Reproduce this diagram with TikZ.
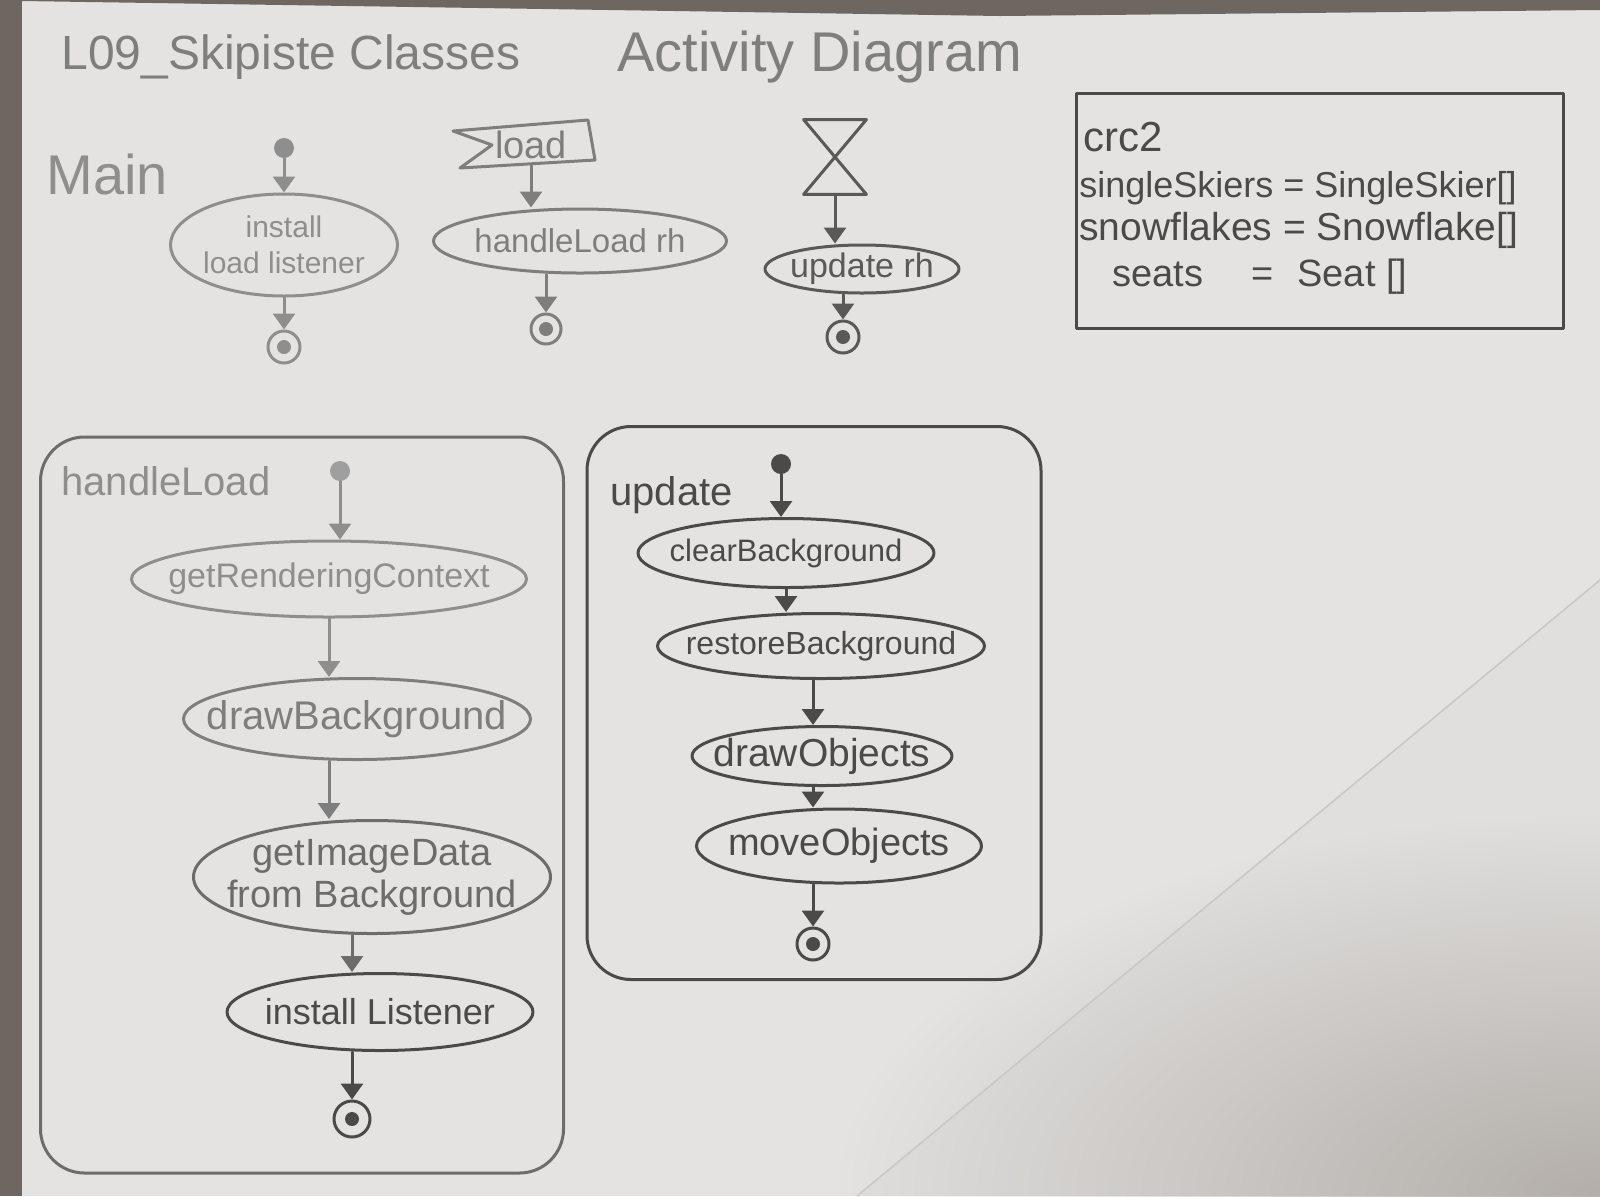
\documentclass[tikz,border=0pt]{standalone}
\usepackage{fontspec}
\setmainfont{Liberation Sans}
\usetikzlibrary{shapes.geometric,arrows.meta,fadings}

\definecolor{paper}{HTML}{E4E3E1}
\definecolor{desk}{HTML}{6E6761}
\definecolor{shadow}{HTML}{A8A29D}
\definecolor{ink}{HTML}{4A4A4A}
\definecolor{inkmid}{HTML}{6C6C6C}
\definecolor{inksoft}{HTML}{7E7E7E}
\definecolor{inkpale}{HTML}{8E8E8E}

\tikzfading[name=corner glow, inner color=transparent!0, outer color=transparent!100]

\begin{document}
\begin{tikzpicture}[x=0.5pt,y=-0.5pt,
  pen/.style={line width=1.5pt, line cap=round, line join=round},
  act/.style 2 args={ellipse, draw, pen, inner sep=0pt, minimum width=#1, minimum height=#2},
  lbl/.style={align=center, font=\fontsize{#1}{#1}\selectfont},
  flow/.style={pen, -{Triangle[width=11pt,length=8pt]}},
  startdot/.style={circle, fill, inner sep=0pt, minimum size=#1},
  enddot/.style={circle, draw, pen, inner sep=0pt, minimum size=#1,
    path picture={\fill (path picture bounding box.center) circle (3.5pt);}},
  txt/.style={anchor=base west, inner sep=0pt, font=\fontsize{#1}{#1}\selectfont},
  frame/.style={draw, pen, rounded corners=22pt, inner sep=0pt}
]
\useasboundingbox (0,0) rectangle (1600,1196);

% sheet of paper on the desk
\begin{scope}
  \clip (0,0) rectangle (1600,1196);
  \fill[paper] (0,0) rectangle (1600,1196);
  \fill[black, opacity=0.015] (1600,580) -- (857,1196) -- (1600,1196) -- cycle;
  \fill[shadow, opacity=0.8, path fading=corner glow] (1600,1196) ellipse (760 and 380);
  \draw[paper!88!black, line width=0.8pt] (1600,580) -- (857,1196);
  \fill[desk] (0,0) rectangle (22,1196);
  \fill[desk] (22,0) -- (1600,0) -- (1600,10) -- (1000,16) -- (22,1) -- cycle;
\end{scope}

% title line
\begin{scope}[color=inkmid!85!paper]
  \node[txt=24] (title) at (61,69) {L09\_Skipiste Classes};
  \node[txt=28] (subtitle) at (617,71) {Activity Diagram};
\end{scope}

% ---------------- Main ----------------
\node[txt=28, color=inkpale] (main) at (46,194) {Main};

\begin{scope}[color=inkpale]
  \node[startdot=10pt] (s1) at (284,148) {};
  \node[act={113.5pt}{51pt}, label={[lbl=15]center:{install\\[3pt]load listener}}] (inst) at (284,245) {};
  \node[enddot=16pt] (e1) at (284,347) {};
  \draw[flow] (s1) -- (inst);
  \draw[flow] (inst) -- (e1);
\end{scope}

\begin{scope}[color=inksoft]
  \node[inner sep=0pt, minimum width=60pt, minimum height=19pt, font=\fontsize{19}{19}\selectfont] (load) at (531,145) {load};
  \draw[pen, shift={(load.center)}] (-78,-14) -- (57,-25) -- (64,15) -- (-71,23) -- (-39,0) -- cycle;
  \node[act={146.5pt}{32pt}, label={[lbl=16.5]center:handleLoad rh}] (hlr) at (580,241) {};
  \node[enddot=15pt] (e2) at (546,329) {};
  \draw[flow] (load.south) -- (load.south |- hlr.north);
  \draw[flow] (hlr.south -| e2) -- (e2);
\end{scope}

\begin{scope}[color=ink!90!paper]
  \node[inner sep=0pt, minimum width=31pt, minimum height=37pt] (hg) at (835,157) {};
  \draw[pen] (hg.north west) -- (hg.north east) -- (hg.south west) -- (hg.south east) -- cycle;
  \node[act={97pt}{24pt}, label={[lbl=17]center:update rh}] (updrh) at (862,269) {};
  \node[enddot=16pt] (e3) at (843,337) {};
  \draw[flow] (hg.south) -- (hg.south |- updrh.north);
  \draw[flow] (updrh.south -| e3) -- (e3);
\end{scope}

% ---------------- crc2 ----------------
\begin{scope}[color=ink]
  \node[draw, pen, inner sep=0pt, minimum width=243.5pt, minimum height=117.5pt] (crc) at (1320,211) {};
  \node[txt=21] (crcname) at (1083,151) {crc2};
  \node[txt=18] (skiers) at (1079,197) {singleSkiers = SingleSkier[]};
  \node[txt=19.5] (flakes) at (1079,240) {snowflakes = Snowflake[]};
  \node[txt=19] (seats) at (1112,286) {seats\hspace{24pt}=\hspace{12pt}Seat []};
\end{scope}

% ---------------- handleLoad ----------------
\node[frame, color=inkmid, minimum width=261.5pt, minimum height=368pt] (hlbox) at (302,805) {};
\node[txt=20, color=inkpale] (hltitle) at (61,495) {handleLoad};

\node[startdot=10pt, color=inkpale!80!paper] (s2) at (340,471) {};
\node[act={197.5pt}{38pt}, color=inkpale, label={[lbl=17,color=inkpale]center:getRenderingContext}] (grc) at (329,579) {};
\node[act={173.5pt}{40.5pt}, color=inksoft, label={[lbl=20,color=inksoft]center:drawBackground}] (drawbg) at (357,719) {};
\node[act={178.5pt}{56.5pt}, color=inkmid, label={[lbl=19,color=inkmid]center:{getImageData\\[2pt]from Background}}] (getimg) at (372,877) {};
\node[act={153pt}{38.5pt}, color=ink, label={[lbl=18,color=ink]center:install Listener}] (instl) at (380,1012) {};
\node[enddot=18pt, color=ink] (e4) at (352,1119) {};

\draw[flow, color=inkpale] (s2) -- (s2 |- grc.north);
\draw[flow, color=inkpale] (grc.south) -- (grc.south |- drawbg.north);
\draw[flow, color=inksoft] (drawbg.south -| grc.south) -- (getimg.north -| grc.south);
\draw[flow, color=inkmid] (getimg.south -| e4) -- (instl.north -| e4);
\draw[flow, color=ink] (instl.south -| e4) -- (e4);

% ---------------- update ----------------
\begin{scope}[color=ink]
  \node[frame, minimum width=227pt, minimum height=276.5pt] (upbox) at (814,703) {};
  \node[txt=20] (uptitle) at (610,505) {update};
  \node[startdot=10pt] (s3) at (781,464) {};
  \node[act={148pt}{34.5pt}, label={[lbl=15.5]center:clearBackground}] (clr) at (786,553) {};
  \node[act={163.5pt}{32.5pt}, label={[lbl=16]center:restoreBackground}] (rst) at (821,646) {};
  \node[act={130pt}{29.5pt}, label={[lbl=19.5]center:drawObjects}] (drw) at (822,756) {};
  \node[act={142.5pt}{37pt}, label={[lbl=19]center:moveObjects}] (mov) at (839,846) {};
  \node[enddot=16pt] (e5) at (813,944) {};
  \draw[flow] (s3) -- (s3 |- clr.north);
  \draw[flow] (clr.south) -- (clr.south |- rst.north);
  \draw[flow] (rst.south -| e5) -- (drw.north -| e5);
  \draw[flow] (drw.south -| e5) -- (mov.north -| e5);
  \draw[flow] (mov.south -| e5) -- (e5);
\end{scope}
\end{tikzpicture}
\end{document}
